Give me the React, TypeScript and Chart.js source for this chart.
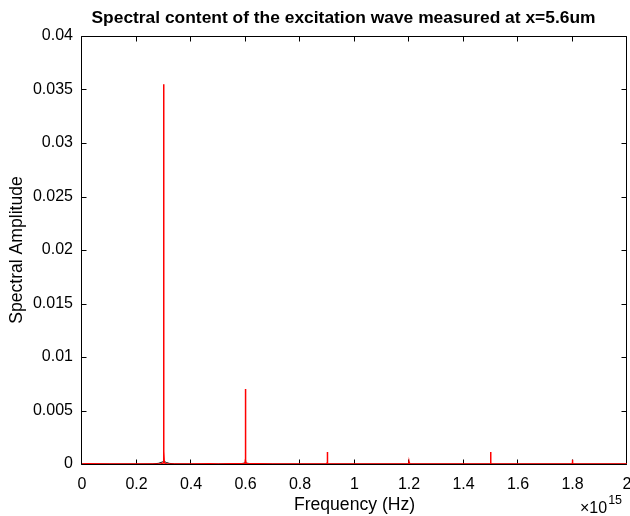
import React, { useEffect, useRef } from "react";
import { Chart, registerables } from "chart.js";

Chart.register(...registerables);

const TITLE = "Spectral content of the excitation wave measured at x=5.6um";
const X_LABEL = "Frequency (Hz)";
const Y_LABEL = "Spectral Amplitude";
const X_EXPONENT_BASE = "\u00d710";
const X_EXPONENT = "15";

// x in units of 1e15 Hz
const X_TICKS = [0, 0.2, 0.4, 0.6, 0.8, 1, 1.2, 1.4, 1.6, 1.8, 2];
const X_TICK_LABELS = ["0", "0.2", "0.4", "0.6", "0.8", "1", "1.2", "1.4", "1.6", "1.8", "2"];
const Y_TICKS = [0, 0.005, 0.01, 0.015, 0.02, 0.025, 0.03, 0.035, 0.04];
const Y_TICK_LABELS = ["0", "0.005", "0.01", "0.015", "0.02", "0.025", "0.03", "0.035", "0.04"];

// red spectrum
const redFreq = [
  0, 0.02, 0.1, 0.2, 0.29, 0.298, 0.2995, 0.3, 0.3005, 0.302, 0.31, 0.4, 0.47, 0.5,
  0.598, 0.5995, 0.6, 0.6005, 0.602, 0.7, 0.8, 0.898, 0.8995, 0.9, 0.9005, 0.902,
  1.0, 1.1, 1.198, 1.1995, 1.2, 1.2005, 1.202, 1.3, 1.4, 1.498, 1.4995, 1.5, 1.5005,
  1.502, 1.6, 1.7, 1.798, 1.7995, 1.8, 1.8005, 1.802, 1.9, 2.0,
];
const redAmp = [
  0.00001, 0.00003, 0.00001, 0.00001, 0.00003, 0.0001, 0.0012, 0.0355, 0.0012, 0.0001, 0.00003, 0.00001, 0.00002, 0.00001,
  0.00005, 0.0004, 0.007, 0.0004, 0.00005, 0.00001, 0.00001, 0.00002, 0.0001, 0.00112, 0.0001, 0.00002,
  0.00001, 0.00001, 0.00002, 0.0001, 0.0002, 0.0001, 0.00002, 0.00001, 0.00001, 0.00002, 0.0001, 0.00112, 0.0001,
  0.00002, 0.00001, 0.00001, 0.00002, 0.0001, 0.0004, 0.0001, 0.00002, 0.00001, 0.00001,
];

// black spectrum (mostly hidden under red)
const blackFreq = [0, 0.1, 0.2, 0.26, 0.28, 0.29, 0.295, 0.3, 0.305, 0.31, 0.32, 0.34, 0.4, 0.5, 0.58, 0.595, 0.6, 0.605, 0.62, 0.7, 1.0, 1.5, 2.0];
const blackAmp = [0, 0, 0, 0.00001, 0.00006, 0.00014, 0.0002, 0.00024, 0.0002, 0.00014, 0.00006, 0.00001, 0, 0, 0.00002, 0.00008, 0.00012, 0.00008, 0.00002, 0, 0, 0, 0];

const FONT = "'Liberation Sans', Arial, Helvetica, sans-serif";

const framePlugin = {
  id: "matlabFrame",
  beforeDatasetsDraw(chart: any) {
    const { ctx, chartArea: a, scales } = chart;
    const L = Math.round(a.left) - 0.5;
    const R = Math.round(a.right) - 0.5;
    const T = Math.round(a.top) + 0.5;
    const B = Math.round(a.bottom) + 0.5;
    ctx.save();
    ctx.strokeStyle = "#000";
    ctx.lineWidth = 1;
    ctx.beginPath();
    ctx.rect(L, T, R - L, B - T);
    const tl = 5;
    const xs = scales.x;
    for (const v of X_TICKS) {
      const px = Math.round(xs.getPixelForValue(v)) - 0.5;
      ctx.moveTo(px, B);
      ctx.lineTo(px, B - tl);
      ctx.moveTo(px, T);
      ctx.lineTo(px, T + tl);
    }
    const ys = scales.y;
    for (const v of Y_TICKS) {
      const py = Math.round(ys.getPixelForValue(v)) + 0.5;
      ctx.moveTo(L, py);
      ctx.lineTo(L + tl, py);
      ctx.moveTo(R, py);
      ctx.lineTo(R - tl, py);
    }
    ctx.stroke();
    ctx.restore();
  },
  afterDraw(chart: any) {
    const { ctx, chartArea: a } = chart;
    ctx.save();
    ctx.fillStyle = "#000";
    ctx.font = `bold 17.4px ${FONT}`;
    ctx.textAlign = "center";
    ctx.textBaseline = "middle";
    ctx.fillText(TITLE, (a.left + a.right) / 2 - 11, 18);
    // exponent label
    ctx.font = `16px ${FONT}`;
    ctx.textAlign = "left";
    ctx.textBaseline = "middle";
    ctx.fillText(X_EXPONENT_BASE, 580, 509);
    const w = ctx.measureText(X_EXPONENT_BASE).width;
    ctx.font = `12.5px ${FONT}`;
    ctx.fillText(X_EXPONENT, 580 + w + 1, 501);
    ctx.restore();
  },
};

export default function App() {
  const ref = useRef<HTMLCanvasElement | null>(null);
  useEffect(() => {
    if (!ref.current) return;
    const chart = new Chart(ref.current, {
      type: "line",
      data: {
        datasets: [
          {
            label: "red",
            data: redFreq.map((x, i) => ({ x, y: redAmp[i] })),
            borderColor: "#ff0000",
            borderWidth: 1.5,
            pointRadius: 0,
            tension: 0,
            order: 0,
          },
          {
            label: "black",
            data: blackFreq.map((x, i) => ({ x, y: blackAmp[i] })),
            borderColor: "#000000",
            borderWidth: 1,
            pointRadius: 0,
            tension: 0,
            order: 1,
          },
        ],
      },
      plugins: [framePlugin],
      options: {
        animation: false,
        responsive: false,
        maintainAspectRatio: false,
        layout: { padding: { top: 36, right: 3, left: 0, bottom: 0 } },
        plugins: {
          legend: { display: false },
          title: { display: false },
          tooltip: { enabled: false },
        },
        scales: {
          x: {
            type: "linear",
            min: 0,
            max: 2,
            grid: { display: false, drawTicks: false },
            border: { display: false },
            afterBuildTicks: (s: any) => {
              s.ticks = X_TICKS.map((v) => ({ value: v }));
            },
            afterFit: (s: any) => {
              s.height = 52;
              s.paddingLeft = 0;
              s.paddingRight = 0;
            },
            ticks: {
              autoSkip: false,
              maxRotation: 0,
              padding: 11,
              color: "#000",
              font: { family: FONT, size: 16 },
              callback: (v: any) => {
                const i = X_TICKS.findIndex((t) => Math.abs(t - v) < 1e-9);
                return i >= 0 ? X_TICK_LABELS[i] : "";
              },
            },
            title: {
              display: true,
              text: X_LABEL,
              color: "#000",
              font: { family: FONT, size: 17.6 },
              padding: { top: 0, bottom: 0 },
            },
          },
          y: {
            type: "linear",
            min: 0,
            max: 0.04,
            grid: { display: false, drawTicks: false },
            border: { display: false },
            afterBuildTicks: (s: any) => {
              s.ticks = Y_TICKS.map((v) => ({ value: v }));
            },
            afterFit: (s: any) => {
              s.width = 82;
              s.paddingTop = 0;
              s.paddingBottom = 0;
            },
            ticks: {
              autoSkip: false,
              padding: 9,
              color: "#000",
              font: { family: FONT, size: 16 },
              callback: (v: any) => {
                const i = Y_TICKS.findIndex((t) => Math.abs(t - v) < 1e-12);
                return i >= 0 ? Y_TICK_LABELS[i] : "";
              },
            },
            title: {
              display: true,
              text: Y_LABEL,
              color: "#000",
              font: { family: FONT, size: 17.6 },
              padding: { top: 7, bottom: 0 },
            },
          },
        },
      },
    });
    return () => chart.destroy();
  }, []);
  return (
    <div style={{ position: "absolute", left: 0, top: 0, width: 630, height: 516, background: "#fff" }}>
      <canvas ref={ref} width={630} height={516} style={{ width: 630, height: 516, display: "block" }} />
    </div>
  );
}
